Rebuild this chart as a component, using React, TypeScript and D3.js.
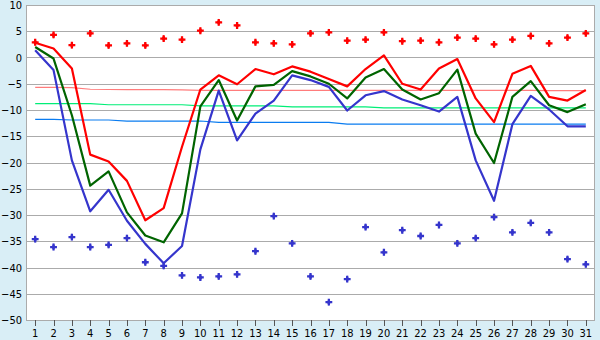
import React, { useEffect, useRef } from 'react';
import * as d3 from 'd3';

const days = ['1', '2', '3', '4', '5', '6', '7', '8', '9', '10', '11', '12', '13', '14', '15', '16',
  '17', '18', '19', '20', '21', '22', '23', '24', '25', '26', '27', '28', '29', '30', '31'];

// daily max / mean / min
const maxLine = [2.8, 1.7, -2.1, -18.5, -19.8, -23.5, -31.0, -28.7, -17.0, -6.1, -3.4, -5.1, -2.2, -3.2, -1.7, -2.7,
  -4.1, -5.5, -2.2, 0.4, -5.0, -6.1, -2.1, -0.3, -7.8, -12.3, -3.1, -1.6, -7.5, -8.2, -6.2];
const meanLine = [2.0, -0.2, -11.0, -24.4, -21.7, -29.5, -33.9, -35.2, -29.7, -9.3, -4.3, -12.0, -5.5, -5.2, -2.6, -3.6,
  -5.0, -7.8, -3.8, -2.2, -6.1, -8.0, -6.8, -2.3, -14.5, -20.1, -7.5, -4.5, -9.1, -10.4, -8.9];
const minLine = [1.4, -2.4, -19.6, -29.3, -25.2, -31.1, -35.5, -39.2, -35.9, -17.5, -6.3, -15.8, -10.7, -8.2, -3.4, -4.3,
  -5.6, -10.1, -7.2, -6.4, -8.0, -9.1, -10.3, -7.5, -19.6, -27.3, -12.7, -7.3, -9.9, -13.1, -13.1];

// record highs / lows
const highPoints = [2.9, 4.3, 2.35, 4.6, 2.3, 2.7, 2.3, 3.6, 3.4, 5.1, 6.7, 6.1, 2.9, 2.7, 2.5, 4.6,
  4.8, 3.2, 3.4, 4.8, 3.1, 3.2, 2.9, 3.8, 3.6, 2.5, 3.4, 4.1, 2.7, 3.8, 4.6];
const lowPoints = [-34.6, -36.1, -34.2, -36.1, -35.7, -34.4, -39.0, -39.7, -41.5, -41.9, -41.7, -41.3, -36.9, -30.2, -35.4, -41.7,
  -46.6, -42.2, -32.3, -37.1, -32.9, -34.0, -31.9, -35.4, -34.4, -30.4, -33.3, -31.5, -33.3, -38.4, -39.4];

// normals
const normMax = [-5.7, -5.7, -5.75, -6.05, -6.1, -6.1, -6.1, -6.1, -6.15, -6.25, -6.25, -6.25, -6.25, -6.25, -6.25, -6.25,
  -6.25, -6.25, -6.25, -6.25, -6.25, -6.25, -6.25, -6.25, -6.25, -6.25, -6.25, -6.25, -6.3, -6.3, -6.3];
const normMean = [-8.8, -8.8, -8.8, -8.8, -9.0, -9.0, -9.0, -9.0, -9.0, -9.2, -9.2, -9.2, -9.2, -9.2, -9.4, -9.4,
  -9.4, -9.4, -9.4, -9.6, -9.6, -9.6, -9.6, -9.6, -9.6, -9.6, -9.6, -9.6, -9.6, -9.6, -9.6];
const normMin = [-11.8, -11.8, -11.9, -11.9, -11.9, -12.1, -12.1, -12.1, -12.1, -12.1, -12.35, -12.35, -12.35, -12.35, -12.35, -12.35,
  -12.35, -12.7, -12.7, -12.7, -12.7, -12.7, -12.7, -12.7, -12.7, -12.7, -12.7, -12.7, -12.7, -12.7, -12.7];

function Chart() {
  const ref = useRef<SVGSVGElement>(null);
  const width = 600;
  const height = 340;

  useEffect(() => {
    d3.select(ref.current).selectAll('*').remove();
    const svg = d3.select(ref.current);

    const left = 26, right = 595, top = 5, bottom = 320;
    const x = d3.scalePoint<string>().domain(days).range([left, right]).padding(0.5);
    const y = d3.scaleLinear().domain([-50, 10]).range([bottom, top]);
    const font = '"DejaVu Sans Condensed", "DejaVu Sans", sans-serif';

    svg.append('rect').attr('width', width).attr('height', height).attr('fill', '#d9eef6');
    svg.append('rect')
      .attr('x', left).attr('y', top)
      .attr('width', right - left).attr('height', bottom - top)
      .attr('fill', '#ffffff');

    // grid
    const yTicks = y.ticks(12);
    svg.append('g').selectAll('line')
      .data(yTicks)
      .join('line')
      .attr('x1', left).attr('x2', right)
      .attr('y1', d => Math.round(y(d)) + 0.5).attr('y2', d => Math.round(y(d)) + 0.5)
      .attr('stroke', '#ababab');

    // frame
    svg.append('rect')
      .attr('x', left + 0.5).attr('y', top + 0.5)
      .attr('width', right - left - 1).attr('height', bottom - top)
      .attr('fill', 'none').attr('stroke', '#ababab');

    // y labels
    svg.append('g').selectAll('text')
      .data(yTicks)
      .join('text')
      .attr('x', 22).attr('y', d => y(d) + 4)
      .attr('text-anchor', 'end')
      .attr('font-family', font).attr('font-size', 11)
      .text(d => (d < 0 ? '\u2212' + Math.abs(d) : String(d)));

    // x ticks + labels
    const xa = svg.append('g');
    xa.selectAll('line')
      .data(days)
      .join('line')
      .attr('x1', d => Math.round(x(d)!) + 0.5).attr('x2', d => Math.round(x(d)!) + 0.5)
      .attr('y1', bottom).attr('y2', bottom + 6)
      .attr('stroke', '#555');
    xa.selectAll('text')
      .data(days)
      .join('text')
      .attr('x', d => x(d)!).attr('y', 337)
      .attr('text-anchor', 'middle')
      .attr('font-family', font).attr('font-size', 11)
      .text(d => d);

    const line = d3.line<number>()
      .x((_, i) => x(days[i])!)
      .y(d => y(d));

    // normals
    [[normMax, '#ff7c7c'], [normMean, '#00ee77'], [normMin, '#0a7cf0']].forEach(([vals, color]) => {
      svg.append('path')
        .attr('d', line(vals as number[]))
        .attr('fill', 'none')
        .attr('stroke', color as string)
        .attr('stroke-width', 1.2);
    });

    // daily lines
    [[minLine, '#3535cc'], [meanLine, '#006400'], [maxLine, '#ff0000']].forEach(([vals, color]) => {
      svg.append('path')
        .attr('d', line(vals as number[]))
        .attr('fill', 'none')
        .attr('stroke', color as string)
        .attr('stroke-width', 2.2)
        .attr('stroke-linejoin', 'round');
    });

    // record markers: bold cross with a small diamond in the middle
    const cross = d3.symbol().type(d3.symbolCross).size(26);
    const diamond = d3.symbol().type(d3.symbolDiamond).size(14);
    [[highPoints, '#ff0000'], [lowPoints, '#3535cc']].forEach(([vals, color]) => {
      const g = svg.append('g').selectAll('g')
        .data(vals as number[])
        .join('g')
        .attr('transform', (d, i) => `translate(${x(days[i])},${y(d)})`)
        .attr('fill', color as string);
      g.append('path').attr('d', cross);
      g.append('path').attr('d', diamond);
    });
  }, []);

  return <svg ref={ref} width={width} height={height}></svg>;
}

export default function App() {
  return (
    <div style={{ position: 'absolute', left: 0, top: 0 }}>
      <Chart />
    </div>
  );
}
